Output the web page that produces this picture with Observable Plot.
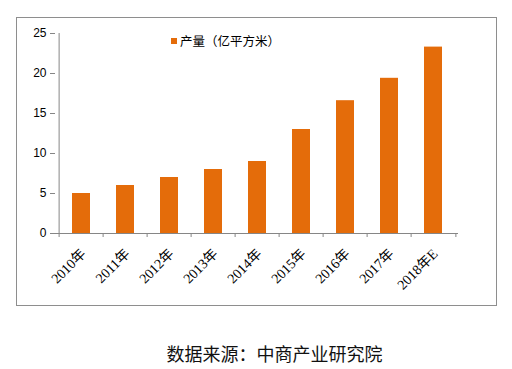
<!DOCTYPE html>
<html>
<head>
<meta charset="utf-8">
<script src="https://cdn.jsdelivr.net/npm/d3@7"></script>
<script src="https://cdn.jsdelivr.net/npm/@observablehq/plot@0.6"></script>
<style>
  html, body { margin: 0; padding: 0; background: #fff; }
  #wrap { position: relative; width: 512px; height: 369px; overflow: hidden; }
  #frame { position: absolute; left: 16px; top: 17px; width: 479px; height: 287px; border: 1px solid #8e8e8e; box-sizing: content-box; }
  #chart { position: absolute; left: 0; top: 0; }
  #legend { position: absolute; left: 171px; top: 31px; font: 12.5px "Noto Sans CJK SC", sans-serif; color: #000; display: flex; align-items: center; }
  #legend .sw { width: 6px; height: 6px; background: #E46C0A; margin-right: 3px; }
  #caption { position: absolute; left: 0; width: 549px; top: 340px; text-align: center; font: 18px "Noto Sans CJK SC", sans-serif; color: #111; }
</style>
</head>
<body>
<div id="wrap">
  <div id="frame"></div>
  <div id="chart"></div>
  <div id="legend"><div class="sw"></div><span id="legendText"></span></div>
  <div id="caption"></div>
</div>
<script>
const years = ["2010年", "2011年", "2012年", "2013年", "2014年", "2015年", "2016年", "2017年", "2018年E"];
const output = [5, 6, 7, 8, 9, 13, 16.6, 19.4, 23.3];
const yTicks = [0, 5, 10, 15, 20, 25];
const seriesName = "产量（亿平方米）";
const source = "数据来源：中商产业研究院";
const barColor = "#E46C0A";
const axisColor = "#868686";

const data = years.map((y, i) => ({year: y, value: output[i]}));

const W = 512, H = 320;
const mL = 55, mR = 54, mT = 33, mB = 87;
const step = (W - mL - mR) / years.length;

const chart = Plot.plot({
  width: W,
  height: H,
  marginLeft: mL,
  marginRight: mR,
  marginTop: mT,
  marginBottom: mB,
  style: {fontFamily: "Liberation Sans, sans-serif", fontSize: "12px", color: "#000", background: "transparent"},
  x: {domain: years, paddingInner: 0.6, paddingOuter: 0.3, label: null},
  y: {domain: [0, 25], label: null},
  marks: [
    Plot.barY(data, {x: "year", y: "value", fill: barColor}),
    // y axis line (left edge of the band range)
    Plot.ruleX([years[0]], {x: d => d, y1: 0, y2: 25, stroke: axisColor, dx: -step / 2}),
    Plot.axisY({ticks: yTicks, tickSize: 5, tickPadding: 4, stroke: axisColor, fill: "#000", fontSize: 12, fontFamily: "Liberation Sans, sans-serif"}),
    // x axis line
    Plot.ruleY([0], {stroke: axisColor}),
    // x boundary ticks
    Plot.ruleX(years, {x: d => d, y1: 0, y2: -0.5, stroke: axisColor, dx: -step / 2}),
    Plot.ruleX([years[years.length - 1]], {x: d => d, y1: 0, y2: -0.5, stroke: axisColor, dx: step / 2}),
    Plot.axisX({tickSize: 0, tickRotate: -45, tickPadding: 18, dx: 2, fill: "#000", fontSize: 14, fontFamily: "Liberation Serif, Noto Sans CJK SC, serif"})
  ]
});
document.getElementById("chart").appendChild(chart);
document.getElementById("legendText").textContent = seriesName;
document.getElementById("caption").textContent = source;
</script>
</body>
</html>
